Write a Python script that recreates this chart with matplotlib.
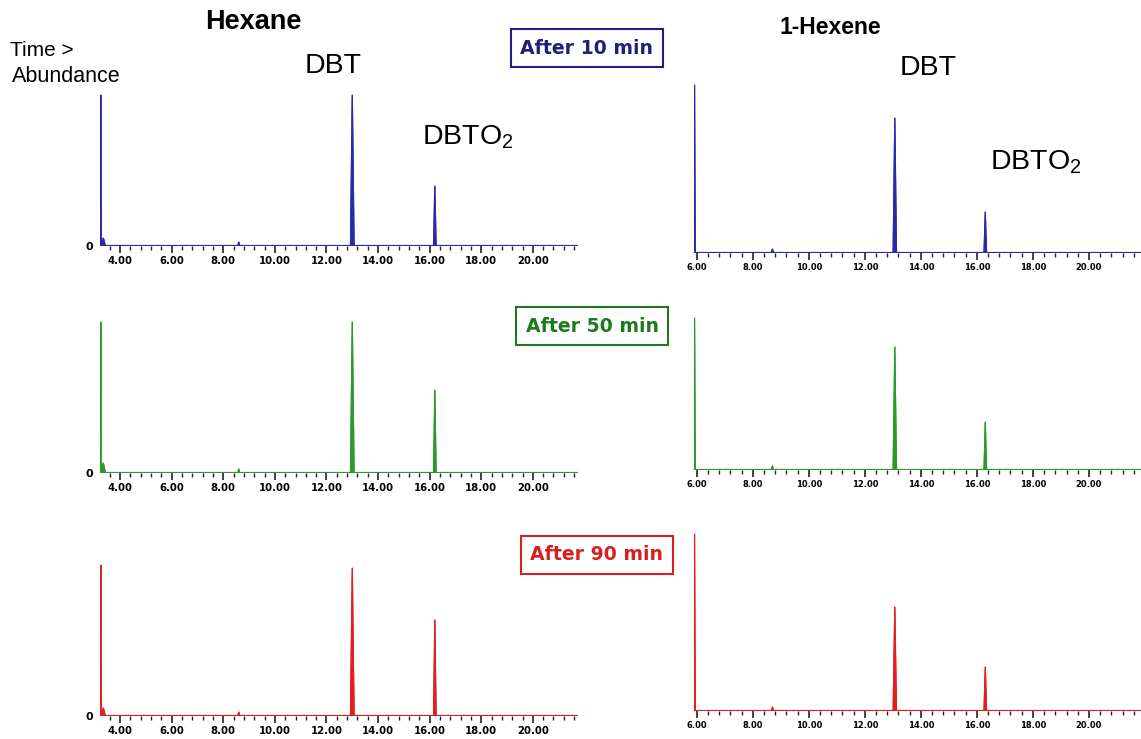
import numpy as np
import matplotlib
matplotlib.use("Agg")
import matplotlib.pyplot as plt
from matplotlib.ticker import MultipleLocator, AutoMinorLocator

plt.rcParams['font.family'] = ['Liberation Sans', 'DejaVu Sans']
plt.rcParams['mathtext.fontset'] = 'custom'
plt.rcParams['mathtext.rm'] = 'Liberation Sans'

W, H = 1141, 739

# retention times (min) of solvent, small impurity, DBT, DBTO2
rt_hexane = [3.25, 3.35, 8.6, 13.0, 16.2]
rt_hexene = [5.92, 8.7, 13.07, 16.3]

# peak heights (abundance, arbitrary units) per time point
times = ['After 10 min', 'After 50 min', 'After 90 min']
h_hexane = [[151, 8, 4, 151, 60],
            [151, 10, 4, 151, 83],
            [151, 8, 4, 148, 96]]
h_hexene = [[168, 4, 135, 41],
            [152, 4, 123, 48],
            [177, 4, 104, 44]]

line_colors = ['#2a2aa8', '#2a9a2a', '#e21e1e']
box_colors = ['#20207a', '#1e7a1e', '#d81e1e']

# layout in pixels: baselines, box centres
base_left = [246, 473, 716]
base_right = [253, 470, 711]
box_xy = [(587, 48), (592, 326), (597, 555)]
AX_H = 180


def draw_trace(ax, rts, hs, color, xmin, xmax, widths):
    ax.plot([xmin, xmax], [0, 0], color=color, lw=1.6, zorder=2,
            solid_capstyle='butt')
    for rt, h, w in zip(rts, hs, widths):
        ax.fill([rt - w, rt, rt + w], [0, h, 0], color=color, lw=0.8,
                zorder=3)
        ax.plot([rt - w, rt, rt + w], [0, h, 0], color=color, lw=0.9,
                zorder=3)


def style_axis(ax, xmin, xmax, show_zero, label_size):
    ax.set_xlim(xmin, xmax)
    ax.set_ylim(0, AX_H)
    for s in ['top', 'right', 'left', 'bottom']:
        ax.spines[s].set_visible(False)
    ax.xaxis.set_major_locator(MultipleLocator(2))
    ax.xaxis.set_minor_locator(AutoMinorLocator(5))
    ax.tick_params(axis='x', which='major', direction='out', length=5,
                   width=1.2, color='#222222', pad=2,
                   labelsize=label_size)
    ax.tick_params(axis='x', which='minor', direction='out', length=3,
                   width=1.0, color='#222222')
    if show_zero:
        ax.set_yticks([0])
        ax.set_yticklabels(['0'], fontweight='bold', fontsize=8,
                           family='DejaVu Sans')
        ax.tick_params(axis='y', length=0, pad=5)
    else:
        ax.set_yticks([])
    ax.patch.set_alpha(0)


fig = plt.figure(figsize=(W / 100, H / 100), dpi=100)

lx0, lx1 = 3.22, 21.75
rx0, rx1 = 5.9, 21.86

for i in range(3):
    axl = fig.add_axes([100 / W, 1 - base_left[i] / H, 478 / W, AX_H / H])
    draw_trace(axl, rt_hexane, h_hexane[i], line_colors[i], lx0, lx1,
               [0.02, 0.08, 0.04, 0.07, 0.05])
    style_axis(axl, lx0, lx1, True, 7)
    axl.set_xticks(np.arange(4, 21, 2))
    axl.set_xticklabels(['%.2f' % v for v in np.arange(4, 21, 2)],
                        fontweight='bold', family='DejaVu Sans', fontsize=7.3)

    axr = fig.add_axes([694 / W, 1 - base_right[i] / H, 447 / W, AX_H / H])
    draw_trace(axr, rt_hexene, h_hexene[i], line_colors[i], rx0, rx1,
               [0.025, 0.04, 0.06, 0.045])
    style_axis(axr, rx0, rx1, False, 6)
    axr.set_xticks(np.arange(6, 21, 2))
    axr.set_xticklabels(['%.2f' % v for v in np.arange(6, 21, 2)],
                        fontweight='bold', family='DejaVu Sans', fontsize=6)

    bx, by = box_xy[i]
    fig.text(bx / W, 1 - by / H, times[i], ha='center', va='center',
             fontsize=13.6, fontweight='bold', color=box_colors[i],
             family='DejaVu Sans',
             bbox=dict(boxstyle='square,pad=0.5', fc='white',
                       ec=box_colors[i], lw=1.5))

fig.text(253 / W, 1 - 22 / H, 'Hexane', ha='center', va='center',
         fontsize=19.5, fontweight='bold')
fig.text(830 / W, 1 - 28 / H, '1-Hexene', ha='center', va='center',
         fontsize=16.5, fontweight='bold')
fig.text(10 / W, 1 - 51 / H, 'Time >', ha='left', va='center', fontsize=15)
fig.text(12 / W, 1 - 76 / H, 'Abundance', ha='left', va='center',
         fontsize=15.5)
fig.text(333 / W, 1 - 66 / H, 'DBT', ha='center', va='center', fontsize=20.5)
fig.text(468 / W, 1 - 137 / H, r'DBTO$_\mathregular{2}$', ha='center',
         va='center', fontsize=20.5)
fig.text(928 / W, 1 - 68 / H, 'DBT', ha='center', va='center', fontsize=20.5)
fig.text(1036 / W, 1 - 162 / H, r'DBTO$_\mathregular{2}$', ha='center',
         va='center', fontsize=20.5)

fig.savefig('out.png', dpi=100)
